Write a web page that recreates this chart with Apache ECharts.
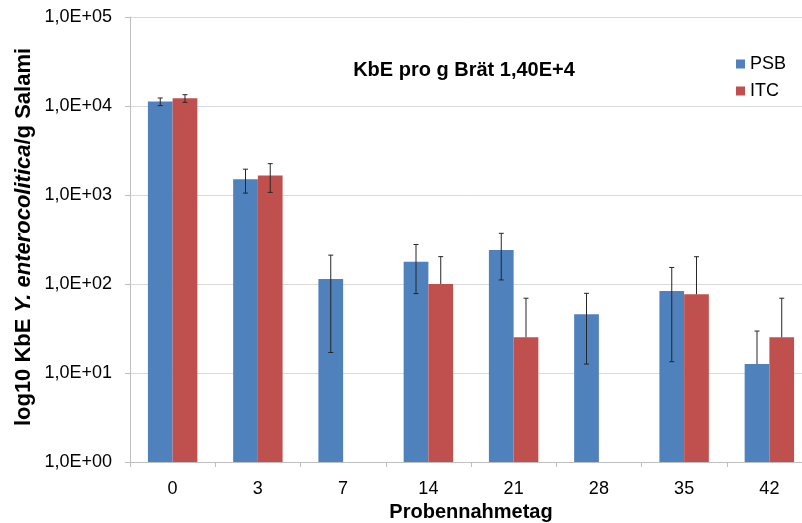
<!doctype html>
<html>
<head>
<meta charset="utf-8">
<title></title>
<script src="https://cdn.jsdelivr.net/npm/echarts@6/dist/echarts.min.js"></script>
<style>
  html, body { margin: 0; padding: 0; background: #fff; }
  #chart { width: 802px; height: 523px; }
</style>
</head>
<body>
<div id="chart"></div>
<script>
// Probennahmetage (Kategorien)
var days = ['0', '3', '7', '14', '21', '28', '35', '42'];
// KbE/g
var psb = [11200, 1500, 114, 178, 241, 45.6, 83.4, 12.6];
var psbErr = [1100, 450, 97, 100, 130, 33, 70, 17];
var itc = [12200, 1660, null, 100, 25.2, null, 76.6, 25.2];
var itcErr = [1200, 590, null, 103, 44, null, 126, 44];
// Achsenbeschriftung y
var yTicks = ['1,0E+00', '1,0E+01', '1,0E+02', '1,0E+03', '1,0E+04', '1,0E+05'];

var font = 'Liberation Sans, Arial, sans-serif';
var barPct = 0.29;

function errData(vals, errs, side) {
  var out = [];
  for (var i = 0; i < vals.length; i++) {
    if (vals[i] == null) continue;
    out.push([i, vals[i], errs[i], side]);
  }
  return out;
}

function renderErr(params, api) {
  var i = api.value(0), v = api.value(1), e = api.value(2), side = api.value(3);
  var band = api.size([1, 1])[0];
  var x = api.coord([i, v])[0] + side * band * barPct / 2;
  var yTop = api.coord([i, v + e])[1];
  var hasLow = v - e > 0;
  var yBot = hasLow ? api.coord([i, v - e])[1] : api.coord([i, v])[1];
  var st = { stroke: '#262626', lineWidth: 1 };
  var kids = [
    { type: 'line', shape: { x1: x, y1: yTop, x2: x, y2: yBot }, style: st },
    { type: 'line', shape: { x1: x - 2.5, y1: yTop, x2: x + 2.5, y2: yTop }, style: st }
  ];
  if (hasLow) {
    kids.push({ type: 'line', shape: { x1: x - 2.5, y1: yBot, x2: x + 2.5, y2: yBot }, style: st });
  }
  return { type: 'group', children: kids };
}

var chart = echarts.init(document.getElementById('chart'));
chart.setOption({
  animation: false,
  backgroundColor: '#fff',
  textStyle: { fontFamily: font },
  grid: { left: 130, right: -10, top: 17, bottom: 61, outerBoundsMode: 'none', containLabel: false },
  legend: {
    data: ['PSB', 'ITC'],
    orient: 'vertical',
    left: 736,
    top: 55,
    padding: 0,
    itemWidth: 9,
    itemHeight: 9,
    itemGap: 9,
    icon: 'rect',
    textStyle: { fontSize: 18, color: '#000', fontFamily: font, lineHeight: 18 }
  },
  graphic: [
    {
      type: 'text', x: 464, y: 70,
      style: {
        text: 'KbE pro g Brät 1,40E+4', fill: '#000',
        fontSize: 20, fontWeight: 'bold', fontFamily: font,
        align: 'center', verticalAlign: 'middle'
      }
    },
    {
      type: 'text', x: 24, y: 237, rotation: Math.PI / 2,
      style: {
        text: '{b|log10 KbE }{i|Y. enterocolitica}{b|/g Salami}',
        align: 'center', verticalAlign: 'middle',
        rich: {
          b: { fontSize: 22, fontWeight: 'bold', fontFamily: font, fill: '#000', color: '#000' },
          i: { fontSize: 22, fontWeight: 'bold', fontStyle: 'italic', fontFamily: font, fill: '#000', color: '#000' }
        }
      }
    }
  ],
  xAxis: {
    type: 'category',
    data: days,
    boundaryGap: true,
    name: 'Probennahmetag',
    nameLocation: 'middle',
    nameGap: 39,
    nameTextStyle: { fontSize: 20, fontWeight: 'bold', color: '#000', fontFamily: font },
    axisLine: { lineStyle: { color: '#bfbfbf' } },
    axisTick: { show: true, length: 5, lineStyle: { color: '#bfbfbf' } },
    axisLabel: { fontSize: 18, color: '#000', margin: 18, fontFamily: font },
    splitLine: { show: false }
  },
  yAxis: {
    type: 'log',
    logBase: 10,
    min: 1,
    max: 100000,
    splitNumber: 5,
    axisLine: { show: true, lineStyle: { color: '#bfbfbf' } },
    axisTick: { show: true, length: 5, lineStyle: { color: '#bfbfbf' } },
    axisLabel: {
      fontSize: 18, color: '#000', margin: 18, fontFamily: font,
      formatter: function (v) { return yTicks[Math.round(Math.log10(v))]; }
    },
    splitLine: { lineStyle: { color: '#d9d9d9' } },
    minorTick: { show: false }
  },
  series: [
    {
      name: 'PSB', type: 'bar', data: psb,
      barWidth: (barPct * 100) + '%', barGap: '0%',
      itemStyle: { color: '#4f81bd' }
    },
    {
      name: 'ITC', type: 'bar', data: itc,
      barWidth: (barPct * 100) + '%', barGap: '0%',
      itemStyle: { color: '#c0504d' }
    },
    {
      name: 'errPSB', type: 'custom', data: errData(psb, psbErr, -1),
      renderItem: renderErr, z: 5, silent: true,
      encode: { x: 0, y: 1 }
    },
    {
      name: 'errITC', type: 'custom', data: errData(itc, itcErr, 1),
      renderItem: renderErr, z: 5, silent: true,
      encode: { x: 0, y: 1 }
    }
  ]
});
</script>
</body>
</html>
